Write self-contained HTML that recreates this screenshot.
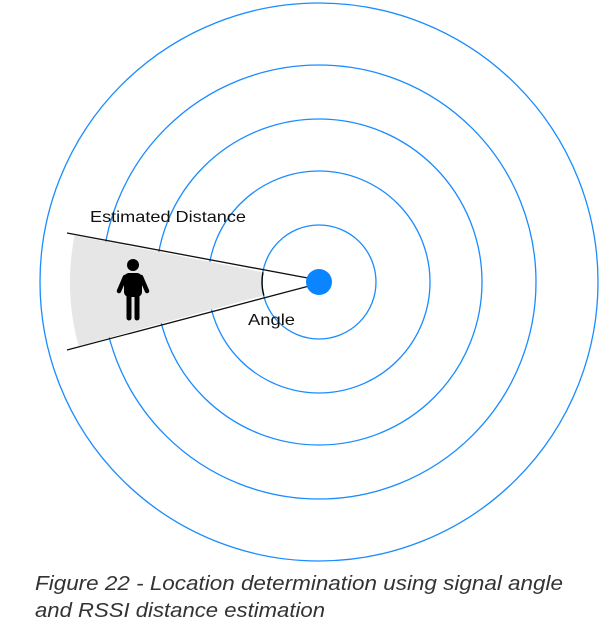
<!DOCTYPE html>
<html><head><meta charset="utf-8"><style>
body{margin:0;background:#fff;width:614px;height:630px;overflow:hidden}
svg{display:block}
</style></head><body>
<svg width="614" height="630">
<g id="rings" fill="none" stroke="#1a8cff" stroke-width="1.3"></g>
<path d="" id="wedge" fill="#e6e6e6"/>
<path id="angleArc" fill="none" stroke="#000" stroke-width="1.4"/>
<line x1="67" y1="233" x2="313" y2="279" stroke="#111" stroke-width="1.3"/>
<line x1="67" y1="350" x2="313" y2="285" stroke="#111" stroke-width="1.3"/>
<circle cx="319" cy="282" r="13" fill="#0a84ff"/>
<g fill="#000" stroke="#000" stroke-linecap="round">
<circle cx="133" cy="265" r="6" stroke="none"/>
<rect x="124" y="273" width="18" height="24" rx="5" stroke="none"/>
<line x1="125" y1="277" x2="119" y2="291" stroke-width="4.5"/>
<line x1="141" y1="277" x2="147" y2="291" stroke-width="4.5"/>
<line x1="129" y1="293" x2="129" y2="318" stroke-width="5"/>
<line x1="137" y1="293" x2="137" y2="318" stroke-width="5"/>
</g>
<text x="90" y="222" font-family="Liberation Sans, sans-serif" font-size="16" fill="#111" textLength="156" lengthAdjust="spacingAndGlyphs">Estimated Distance</text>
<text x="248" y="325" font-family="Liberation Sans, sans-serif" font-size="16" fill="#111" textLength="47" lengthAdjust="spacingAndGlyphs">Angle</text>
<text font-family="Liberation Sans, sans-serif" font-style="italic" font-size="20" fill="#333"><tspan x="35" y="590" textLength="528" lengthAdjust="spacingAndGlyphs">Figure 22 - Location determination using signal angle</tspan><tspan x="35" y="617" textLength="290" lengthAdjust="spacingAndGlyphs">and RSSI distance estimation</tspan></text>
</svg>
<script>
const radii=[57,111,163,217,279];
const cx=319,cy=282;
const g=document.getElementById('rings');
radii.forEach((r,i)=>{const c=document.createElementNS('http://www.w3.org/2000/svg','circle');
c.setAttribute('cx',cx);c.setAttribute('cy',cy);c.setAttribute('r',r);


g.appendChild(c);});
const a1=Math.atan2(233-281,67-313),a2=Math.atan2(350-283,67-313);
function pt(r,a){return [313+r*Math.cos(a),282+r*Math.sin(a)];}
const ri=51,ro=243;
let p1=pt(ri,a1),p2=pt(ro,a1),p3=pt(ro,a2),p4=pt(ri,a2);
document.getElementById('wedge').setAttribute('d',`M${p1}L${p2}A${ro} ${ro} 0 0 0 ${p3}L${p4}A${ri} ${ri} 0 0 1 ${p1}Z`);
document.getElementById('angleArc').setAttribute('d',`M${p1}A${ri} ${ri} 0 0 0 ${p4}`);
</script>
</body></html>
